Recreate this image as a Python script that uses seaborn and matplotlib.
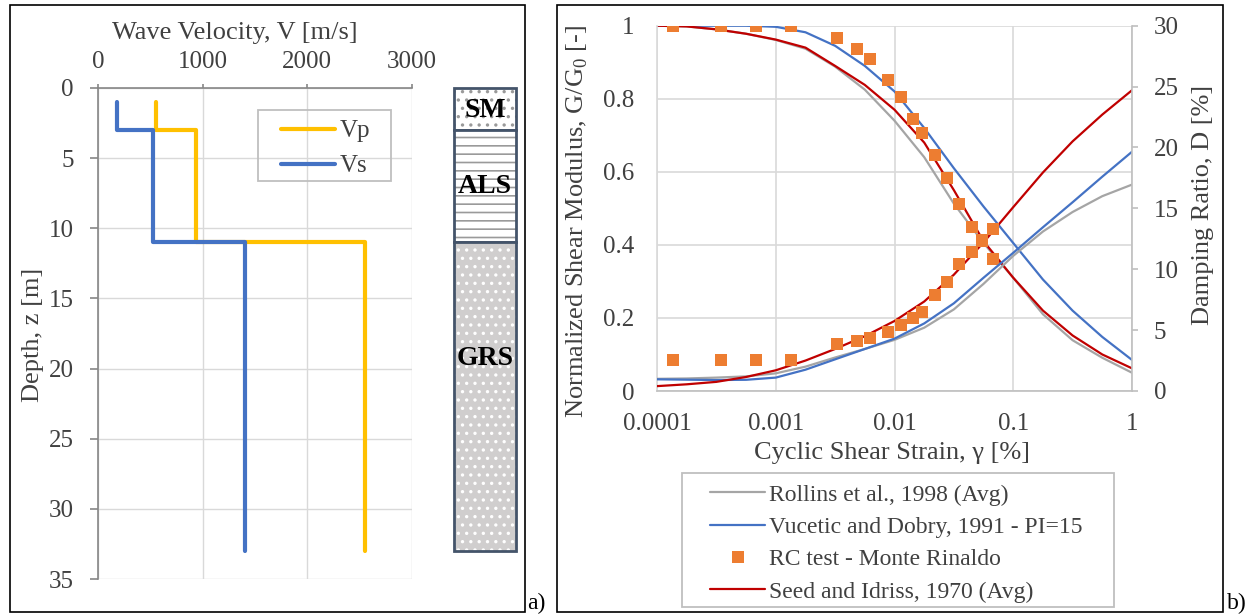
import numpy as np
import pandas as pd
import matplotlib
matplotlib.use("Agg")
import matplotlib.pyplot as plt
import seaborn as sns
from matplotlib.patches import Rectangle
from matplotlib.lines import Line2D
from matplotlib.ticker import NullLocator

# ---------------- Panel a) : velocity profiles ----------------
depth = [1, 3, 3, 11, 11, 33]
vp = [550, 550, 940, 940, 2550, 2550]
vs = [180, 180, 530, 530, 1400, 1400]
v_ticks = [0, 1000, 2000, 3000]
z_ticks = [0, 5, 10, 15, 20, 25, 30, 35]

layer_names = ["SM", "ALS", "GRS"]
layer_top = [0, 3, 11]
layer_bottom = [3, 11, 33]
layer_label_depth = [1.6, 7.0, 19.3]

# ---------------- Panel b) : modulus reduction & damping ----------------
strain_curve = [1e-4, 1.78e-4, 3.16e-4, 5.62e-4, 1e-3, 1.78e-3, 3.16e-3, 5.62e-3,
                1e-2, 1.78e-2, 3.16e-2, 5.62e-2, 0.1, 0.178, 0.316, 0.562, 1.0]
rollins_g = [1.0, 0.998, 0.99, 0.978, 0.961, 0.937, 0.888, 0.825, 0.74, 0.64,
             0.513, 0.405, 0.31, 0.21, 0.139, 0.091, 0.05]
vucetic_g = [1.0, 1.0, 1.0, 1.0, 0.997, 0.982, 0.945, 0.89, 0.82, 0.72,
             0.61, 0.505, 0.405, 0.305, 0.22, 0.148, 0.085]
seed_g = [1.0, 0.998, 0.99, 0.978, 0.962, 0.94, 0.89, 0.838, 0.77, 0.68,
          0.55, 0.41, 0.31, 0.22, 0.152, 0.100, 0.062]
rollins_d = [1.0, 1.03, 1.1, 1.2, 1.45, 2.0, 2.75, 3.45, 4.2, 5.2,
             6.7, 8.8, 11.1, 13.1, 14.7, 16.0, 16.95]
vucetic_d = [0.96, 0.93, 0.9, 0.92, 1.1, 1.75, 2.6, 3.45, 4.3, 5.55,
             7.2, 9.3, 11.35, 13.45, 15.5, 17.6, 19.65]
seed_d = [0.4, 0.55, 0.75, 1.15, 1.7, 2.5, 3.45, 4.5, 5.75, 7.35,
          9.55, 12.2, 15.1, 17.95, 20.5, 22.7, 24.7]

rc_strain = [0.000137, 0.000346, 0.000678, 0.00134, 0.0033, 0.00486, 0.00622, 0.00887,
             0.01135, 0.01445, 0.01694, 0.02188, 0.02754, 0.03516, 0.04467, 0.0542, 0.0671]
rc_g = [1.0, 1.0, 1.0, 1.0, 0.966, 0.935, 0.91, 0.852, 0.805, 0.744, 0.705, 0.645,
        0.582, 0.513, 0.448, 0.412, 0.36]
rc_d = [2.58, 2.58, 2.58, 2.58, 3.85, 4.08, 4.33, 4.87, 5.42, 5.97, 6.51, 7.88,
        8.97, 10.43, 11.44, 12.35, 13.3]

strain_ticks = [1e-4, 1e-3, 1e-2, 1e-1, 1]
strain_ticklabels = ["0.0001", "0.001", "0.01", "0.1", "1"]
g_ticks = [0, 0.2, 0.4, 0.6, 0.8, 1.0]
g_ticklabels = ["0", "0.2", "0.4", "0.6", "0.8", "1"]
d_ticks = [0, 5, 10, 15, 20, 25, 30]

legend_labels = ["Rollins et al., 1998 (Avg)", "Vucetic and Dobry, 1991 - PI=15",
                 "RC test - Monte Rinaldo", "Seed and Idriss, 1970 (Avg)"]

# ---------------- style ----------------
sns.set_theme(style="white")
plt.rcParams["font.family"] = ["Liberation Serif", "DejaVu Serif"]
plt.rcParams["mathtext.fontset"] = "custom"
plt.rcParams["mathtext.rm"] = "Liberation Serif"
plt.rcParams["hatch.linewidth"] = 1.2

W, H = 1250, 616
fig = plt.figure(figsize=(12.5, 6.16), dpi=100)


def fx(px):
    return px / W


def fy(py):
    return 1 - py / H


TXT = "#404040"
GRID = "#D9D9D9"
AXC = "#868686"
C_VP, C_VS = "#FFC000", "#4472C4"
C_ROL, C_VUC, C_SEED, C_RC = "#A5A5A5", "#4472C4", "#C00000", "#ED7D31"

# ---------------- panel a) ----------------
ax1 = fig.add_axes([fx(98), fy(579), (412 - 98) / W, (579 - 88) / H])
sns.lineplot(x=vp, y=depth, sort=False, estimator=None, color=C_VP, lw=3.0,
             ax=ax1, legend=False)
sns.lineplot(x=vs, y=depth, sort=False, estimator=None, color=C_VS, lw=3.0,
             ax=ax1, legend=False)
ax1.set_xlim(0, 3000)
ax1.set_ylim(35, 0)
ax1.set_xticks(v_ticks)
ax1.set_yticks(z_ticks)
ax1.xaxis.tick_top()
ax1.set_xlabel("")
ax1.set_ylabel("")
ax1.grid(True, color=GRID, lw=1.0)
ax1.set_axisbelow(True)
for s in ["right", "bottom"]:
    ax1.spines[s].set_visible(False)
for s in ["left", "top"]:
    ax1.spines[s].set_color(AXC)
    ax1.spines[s].set_linewidth(1.2)
ax1.tick_params(axis="x", top=True, bottom=False, length=3, width=1.2, color=AXC,
                pad=7.5, labelsize=18, labelcolor=TXT, direction="out")
ax1.tick_params(axis="y", left=True, length=5.8, width=1.2, color=AXC,
                pad=11.5, labelsize=18, labelcolor=TXT, direction="out")

fig.text(fx(235), fy(33), "Wave Velocity, V [m/s]", ha="center", va="center",
         fontsize=19, color=TXT)
fig.text(fx(33), fy(335), "Depth, z [m]", ha="center", va="center",
         rotation=90, fontsize=19, color=TXT)

leg1_handles = [Line2D([], [], color=C_VP, lw=3.0), Line2D([], [], color=C_VS, lw=3.0)]
fig.legend(leg1_handles, ["Vp", "Vs"], loc="upper left",
           bbox_to_anchor=(fx(281), fy(120)), frameon=False, borderpad=0,
           borderaxespad=0, handlelength=2.16, handletextpad=0.2,
           labelspacing=0.49, prop={"size": 18}, labelcolor=TXT)
fig.add_artist(Rectangle((fx(258), fy(181)), (391 - 258) / W, (181 - 110) / H,
                         transform=fig.transFigure, fill=False, ec="#BFBFBF", lw=1.3))

# soil column
axc = fig.add_axes([fx(454), fy(579), (516 - 454) / W, (579 - 88) / H])
axc.set_xlim(0, 1)
axc.set_ylim(35, 0)
axc.axis("off")
layer_style = {"SM": ("white", "#9A9A9A", ".."),
               "ALS": ("white", "#9A9A9A", "--"),
               "GRS": ("#D0CECE", "white", "..")}
for name, top, bot, yl in zip(layer_names, layer_top, layer_bottom, layer_label_depth):
    fc, hc, hatch = layer_style[name]
    axc.bar(0.5, bot - top, bottom=top, width=1.0, color=fc, edgecolor=hc,
            hatch=hatch, lw=0, clip_on=False)
    axc.bar(0.5, bot - top, bottom=top, width=1.0, fill=False, edgecolor="#44546A",
            lw=2.0, clip_on=False)
    axc.text(0.5, yl, name, ha="center", va="center", fontsize=20,
             fontweight="bold", color="black")

# ---------------- panel b) ----------------
ax = fig.add_axes([fx(657), fy(391), (1132 - 657) / W, (391 - 25.7) / H])
ax.set_xscale("log")
ax2 = ax.twinx()

sns.lineplot(x=strain_curve, y=rollins_g, color=C_ROL, lw=1.6, ax=ax, legend=False)
sns.lineplot(x=strain_curve, y=vucetic_g, color=C_VUC, lw=1.6, ax=ax, legend=False)
sns.lineplot(x=strain_curve, y=seed_g, color=C_SEED, lw=1.6, ax=ax, legend=False)
sns.lineplot(x=strain_curve, y=rollins_d, color=C_ROL, lw=1.6, ax=ax2, legend=False)
sns.lineplot(x=strain_curve, y=vucetic_d, color=C_VUC, lw=1.6, ax=ax2, legend=False)
sns.lineplot(x=strain_curve, y=seed_d, color=C_SEED, lw=1.6, ax=ax2, legend=False)
sns.scatterplot(x=rc_strain, y=rc_g, marker="s", s=72, color=C_RC, linewidth=0,
                ax=ax, legend=False, zorder=5)
sns.scatterplot(x=rc_strain, y=rc_d, marker="s", s=72, color=C_RC, linewidth=0,
                ax=ax2, legend=False, zorder=5)

ax.set_xlim(1e-4, 1)
ax.set_ylim(0, 1)
ax2.set_ylim(0, 30)
ax.set_xticks(strain_ticks)
ax.set_xticklabels(strain_ticklabels)
ax.xaxis.set_minor_locator(NullLocator())
ax.set_yticks(g_ticks)
ax.set_yticklabels(g_ticklabels)
ax2.set_yticks(d_ticks)
ax.set_xlabel("")
ax.set_ylabel("")
ax2.set_ylabel("")
ax.grid(True, which="major", color=GRID, lw=1.2)
ax.set_axisbelow(True)
ax2.grid(False)

ax.spines["top"].set_visible(False)
ax.spines["right"].set_visible(False)
ax.spines["left"].set_color(GRID)
ax.spines["left"].set_linewidth(1.2)
ax.spines["bottom"].set_color("#BFBFBF")
ax.spines["bottom"].set_linewidth(1.2)
for s in ["top", "left", "bottom"]:
    ax2.spines[s].set_visible(False)
ax2.spines["right"].set_color("#BFBFBF")
ax2.spines["right"].set_linewidth(1.2)

ax.tick_params(axis="x", which="both", bottom=False, length=0, pad=15.5,
               labelsize=18, labelcolor=TXT)
ax.tick_params(axis="y", left=False, length=0, pad=16.5, labelsize=18, labelcolor=TXT)
ax2.tick_params(axis="y", right=True, length=4.3, width=1.2, color="#BFBFBF",
                pad=11.5, labelsize=18, labelcolor=TXT, direction="out")

fig.text(fx(892), fy(453), "Cyclic Shear Strain, \u03b3 [%]", ha="center", va="center",
         fontsize=19, color=TXT)
fig.text(fx(577), fy(221), "Normalized Shear Modulus, G/G$_{\\mathregular{0}}$ [-]",
         ha="center", va="center", rotation=90, fontsize=19, color=TXT)
fig.text(fx(1203), fy(205), "Damping Ratio, D [%]", ha="center", va="center",
         rotation=90, fontsize=19, color=TXT)

leg2_handles = [Line2D([], [], color=C_ROL, lw=1.6),
                Line2D([], [], color=C_VUC, lw=1.6),
                Line2D([], [], color=C_RC, marker="s", ls="none", markersize=8.5,
                       markeredgewidth=0),
                Line2D([], [], color=C_SEED, lw=1.6)]
fig.legend(leg2_handles, legend_labels, loc="upper left",
           bbox_to_anchor=(fx(710), fy(484)), frameon=False, borderpad=0,
           borderaxespad=0, handlelength=2.33, handletextpad=0.15,
           labelspacing=0.46, prop={"size": 17}, labelcolor=TXT, numpoints=1)
fig.add_artist(Rectangle((fx(682), fy(607)), (1114 - 682) / W, (607 - 473) / H,
                         transform=fig.transFigure, fill=False, ec="#BFBFBF", lw=1.3))

# ---------------- panel frames and tags ----------------
fig.add_artist(Rectangle((fx(10), fy(612)), (525 - 10) / W, (612 - 5) / H,
                         transform=fig.transFigure, fill=False, ec="black", lw=1.2))
fig.add_artist(Rectangle((fx(557), fy(612)), (1223 - 557) / W, (612 - 5) / H,
                         transform=fig.transFigure, fill=False, ec="black", lw=1.2))
fig.text(fx(527), fy(609), "a)", ha="left", va="baseline", fontsize=17, color="black")
fig.text(fx(1227), fy(609), "b)", ha="left", va="baseline", fontsize=17, color="black")

fig.savefig("out.png", dpi=100)
